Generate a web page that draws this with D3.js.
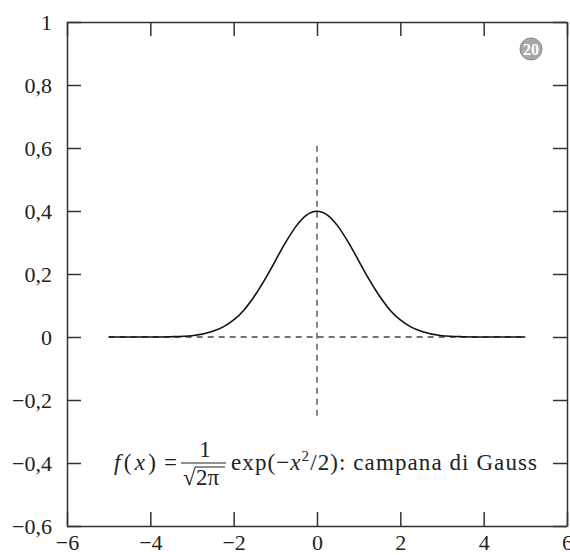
<!DOCTYPE html>
<html>
<head>
<meta charset="utf-8">
<title>Campana di Gauss</title>
<script src="https://d3js.org/d3.v7.min.js"></script>
<style>
  body { margin: 0; background: #fff; }
  svg { display: block; }
  text { font-family: "Liberation Serif", "DejaVu Serif", serif; fill: #222; }
  .axis path, .axis line { stroke: #333; stroke-width: 1.5px; }
  .axis text { font-size: 22px; }
  .dash { stroke: #444; stroke-width: 1.3px; stroke-dasharray: 6 5; fill: none; }
  .curve { stroke: #111; stroke-width: 1.6px; fill: none; }
</style>
</head>
<body>
<script>
// values
var xs = [-5, -4.5, -4, -3.5, -3, -2.5, -2.25, -2, -1.75, -1.5, -1.25, -1, -0.75, -0.5, -0.25, 0,
          0.25, 0.5, 0.75, 1, 1.25, 1.5, 1.75, 2, 2.25, 2.5, 3, 3.5, 4, 4.5, 5];
var ys = [0, 0, 0.0001, 0.001, 0.004, 0.018, 0.032, 0.054, 0.086, 0.13, 0.183, 0.242, 0.301, 0.352, 0.387, 0.399,
          0.387, 0.352, 0.301, 0.242, 0.183, 0.13, 0.086, 0.054, 0.032, 0.018, 0.004, 0.001, 0.0001, 0, 0];

var xTicks = [-6, -4, -2, 0, 2, 4, 6];
var xTickLabels = ["−6", "−4", "−2", "0", "2", "4", "6"];
var yTicks = [-0.6, -0.4, -0.2, 0, 0.2, 0.4, 0.6, 0.8, 1];
var yTickLabels = ["−0,6", "−0,4", "−0,2", "0", "0,2", "0,4", "0,6", "0,8", "1"];

var hLine = [[-5, 0], [5, 0]];       // dashed horizontal guide
var vLine = [[0, -0.25], [0, 0.62]]; // dashed vertical guide

var w = 570, h = 555;
var m = { top: 22, right: 3, bottom: 29, left: 67 };

var svg = d3.select("body").append("svg")
    .attr("width", w)
    .attr("height", h);

var x = d3.scaleLinear().domain([-6, 6]).range([m.left, w - m.right]);
var y = d3.scaleLinear().domain([-0.6, 1]).range([h - m.bottom, m.top]);

// frame with inward ticks
svg.append("g").attr("class", "axis")
    .attr("transform", "translate(0," + y(-0.6) + ")")
    .call(d3.axisBottom(x).tickValues(xTicks).tickSizeInner(-14).tickSizeOuter(0).tickPadding(8)
        .tickFormat(function (d, i) { return xTickLabels[i]; }));

svg.append("g").attr("class", "axis")
    .attr("transform", "translate(" + x(-6) + ",0)")
    .call(d3.axisLeft(y).tickValues(yTicks).tickSizeInner(-14).tickSizeOuter(0).tickPadding(15)
        .tickFormat(function (d, i) { return yTickLabels[i]; }));

svg.append("g").attr("class", "axis")
    .attr("transform", "translate(0," + y(1) + ")")
    .call(d3.axisTop(x).tickValues(xTicks).tickSizeInner(-14).tickSizeOuter(0).tickFormat(""));

svg.append("g").attr("class", "axis")
    .attr("transform", "translate(" + x(6) + ",0)")
    .call(d3.axisRight(y).tickValues(yTicks).tickSizeInner(-14).tickSizeOuter(0).tickFormat(""));

var line = d3.line()
    .x(function (d) { return x(d[0]); })
    .y(function (d) { return y(d[1]); });

svg.append("path").attr("class", "dash").attr("d", line(hLine));
svg.append("path").attr("class", "dash").attr("d", line(vLine));

svg.append("path")
    .attr("class", "curve")
    .attr("d", line.curve(d3.curveMonotoneX)(xs.map(function (v, i) { return [v, ys[i]]; })));

// formula
var f = svg.append("g").attr("font-size", 23);
f.append("text").attr("x", 114).attr("y", 470)
    .attr("textLength", 42).attr("lengthAdjust", "spacing")
    .html('<tspan font-style="italic">f</tspan>(<tspan font-style="italic">x</tspan>)');
f.append("text").attr("x", 164).attr("y", 470).text("=");
f.append("text").attr("x", 205).attr("y", 457).attr("text-anchor", "middle").text("1");
f.append("line").attr("x1", 181).attr("x2", 226).attr("y1", 463).attr("y2", 463)
    .attr("stroke", "#222").attr("stroke-width", 1.2);
f.append("text").attr("x", 183).attr("y", 485).text("√");
f.append("line").attr("x1", 195).attr("x2", 225).attr("y1", 467).attr("y2", 467)
    .attr("stroke", "#222").attr("stroke-width", 1);
f.append("text").attr("x", 196).attr("y", 485).text("2π");
f.append("text").attr("x", 231).attr("y", 470)
    .attr("textLength", 306).attr("lengthAdjust", "spacing")
    .html('exp(−<tspan font-style="italic">x</tspan><tspan dy="-9" font-size="15">2</tspan><tspan dy="9">/2): campana di Gauss</tspan>');

// page badge
svg.append("circle").attr("cx", 531).attr("cy", 49).attr("r", 11)
    .attr("fill", "#a8a8a8").attr("stroke", "#888").attr("stroke-width", 1);
svg.append("text").attr("x", 531).attr("y", 55).attr("text-anchor", "middle")
    .attr("font-size", 16).attr("font-weight", "bold").style("fill", "#fff").text("20");
</script>
</body>
</html>
